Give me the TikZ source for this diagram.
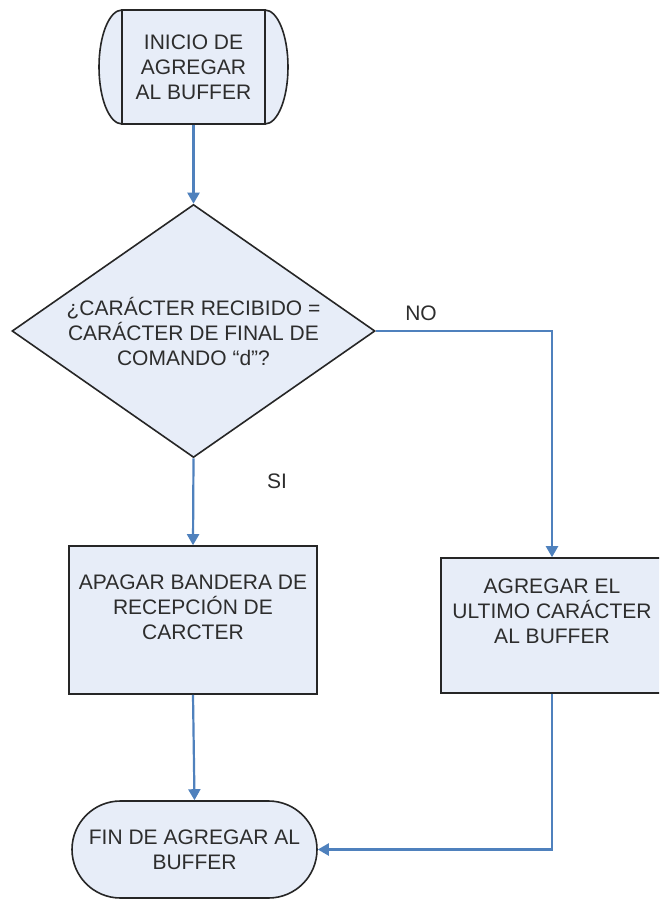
\documentclass[tikz,border=0pt]{standalone}
\usepackage{fontspec}
\setmainfont{Liberation Sans}
\usetikzlibrary{shapes.geometric,shapes.misc,arrows.meta}

\definecolor{boxfill}{RGB}{231,237,248}
\definecolor{flowblue}{RGB}{79,129,189}
\definecolor{inkgray}{RGB}{45,45,45}

\tikzset{
  txt/.style={font=\fontsize{21}{25}\selectfont, text=inkgray, align=center, inner sep=0pt},
  outline/.style={draw=black!85, line width=1.6pt, fill=boxfill},
  procbox/.style={outline, rectangle, inner sep=0pt},
  decision/.style={outline, diamond, inner sep=0pt},
  terminal/.style={outline, rounded rectangle, inner sep=0pt},
  flow/.style={draw=flowblue, line width=2.2pt, -{Triangle[width=12pt,length=11pt]}},
  branch/.style={font=\fontsize{21}{25}\selectfont, text=inkgray, inner sep=0pt}
}

\begin{document}
\begin{tikzpicture}[x=1pt,y=-1pt]
\useasboundingbox (0,0) rectangle (659,901);
\clip (0,0) rectangle (659,901);
\fill[white] (0,0) rectangle (659,901);

% start terminal: curved ends behind a framed centre panel
\path[outline] (122,10) -- (265,10)
  arc[start angle=-90, end angle=90, x radius=23, y radius=57]
  -- (122,124)
  arc[start angle=90, end angle=270, x radius=23, y radius=57] -- cycle;
\node[procbox, minimum width=143pt, minimum height=114pt,
      label={[txt]center:INICIO DE\\AGREGAR\\AL BUFFER}] (start) at (193.5,67) {};

% decision
\node[decision, minimum width=363pt, minimum height=253pt,
      label={[txt]center:¿CARÁCTER RECIBIDO =\\CARÁCTER DE FINAL DE\\COMANDO “d”?}] (dec) at (193.5,331) {};

% process boxes
\node[procbox, minimum width=248pt, minimum height=148pt,
      label={[txt, yshift=13pt]center:APAGAR BANDERA DE\\RECEPCIÓN DE\\CARCTER}] (flag) at (193,620) {};
\node[procbox, minimum width=222pt, minimum height=135pt,
      label={[txt, yshift=14.5pt]center:AGREGAR EL\\ULTIMO CARÁCTER\\AL BUFFER}] (append) at (552,625.5) {};

% end terminal
\node[terminal, minimum width=245pt, minimum height=97pt, txt, draw=black!85, fill=boxfill] (finish) at (194.5,849.5) {FIN DE AGREGAR AL\\BUFFER};

% branch labels
\node[branch] (nolbl) at (421,313) {NO};
\node[branch] (silbl) at (277,481) {SI};

% connectors
\coordinate (noturn) at (552,331);
\coordinate (backturn) at (552,849.5);
\draw[flow] (start.south) -- (dec.north);
\draw[flow] (dec.south) -- (flag.north);
\draw[flow] (dec.east) -- (noturn) -- (append.north);
\draw[flow] (flag.south) -- (finish.north);
\draw[flow] (append.south) -- (backturn) -- (finish.east);
\end{tikzpicture}
\end{document}
